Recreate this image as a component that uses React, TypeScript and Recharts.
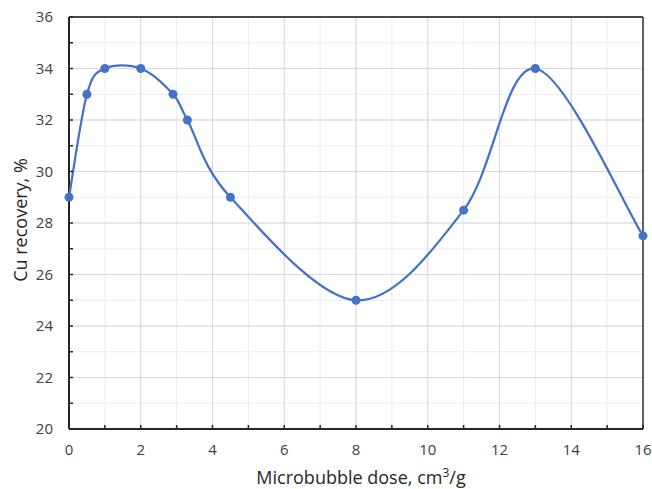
import { LineChart, Line, XAxis, YAxis, CartesianGrid, Label } from "recharts";

// measured points
const doses = [0, 0.5, 1, 2, 2.9, 3.3, 4.5, 8, 11, 13, 16];
const recovery = [29, 33, 34, 34, 33, 32, 29, 25, 28.5, 34, 27.5];

const xTicks = [0, 1, 2, 3, 4, 5, 6, 7, 8, 9, 10, 11, 12, 13, 14, 15, 16];
const yTicks = [20, 21, 22, 23, 24, 25, 26, 27, 28, 29, 30, 31, 32, 33, 34, 35, 36];
const xMajor = [2, 4, 6, 8, 10, 12, 14];
const yMajor = [22, 24, 26, 28, 30, 32, 34];

const data = doses.map((d, i) => ({ dose: d, cu: recovery[i] }));

const FONT = "'Open Sans', 'Noto Sans', sans-serif";
const BLUE = "#4472C4";

// excel-like smoothed line (catmull-rom as bezier)
function excelSmooth(context: any) {
  let pts: number[][] = [];
  return {
    areaStart() {},
    areaEnd() {},
    lineStart() {
      pts = [];
    },
    point(x: number, y: number) {
      pts.push([+x, +y]);
    },
    lineEnd() {
      const n = pts.length;
      if (!n) return;
      context.moveTo(pts[0][0], pts[0][1]);
      for (let i = 0; i < n - 1; i++) {
        const p0 = pts[Math.max(i - 1, 0)];
        const p1 = pts[i];
        const p2 = pts[i + 1];
        const p3 = pts[Math.min(i + 2, n - 1)];
        context.bezierCurveTo(
          p1[0] + (p2[0] - p0[0]) / 6,
          p1[1] + (p2[1] - p0[1]) / 6,
          p2[0] - (p3[0] - p1[0]) / 6,
          p2[1] - (p3[1] - p1[1]) / 6,
          p2[0],
          p2[1]
        );
      }
    },
  };
}

const evenOnly = (v: number) => (v % 2 === 0 ? String(v) : "");

function XTitle(props: any) {
  const vb = props.viewBox;
  return (
    <text x={vb.x + vb.width / 2 + 5} y={vb.y + 55} textAnchor="middle" fontSize={18} fill="#262626" fontFamily={FONT}>
      Microbubble dose, cm
      <tspan fontSize={12} dy={-7}>3</tspan>
      <tspan dy={7}>/g</tspan>
    </text>
  );
}

function YTitle(props: any) {
  const vb = props.viewBox;
  const cx = 27;
  const cy = vb.y + vb.height / 2 - 3;
  return (
    <text x={cx} y={cy} transform={`rotate(-90 ${cx} ${cy})`} textAnchor="middle" fontSize={18} fill="#262626" fontFamily={FONT}>
      Cu recovery, %
    </text>
  );
}

export default function App() {
  return (
    <div style={{ position: "absolute", left: 0, top: 0, width: 652, height: 489, background: "#fff" }}>
      <LineChart width={652} height={489} data={data} margin={{ top: 17, right: 9, left: 0, bottom: 0 }} style={{ fontFamily: FONT }}>
        <CartesianGrid stroke="#ececec" strokeWidth={1} />
        <CartesianGrid stroke="#d9d9d9" strokeWidth={1} horizontalValues={yMajor} verticalValues={xMajor} />
        <CartesianGrid stroke="#111" strokeWidth={1.3} horizontalValues={[36]} verticalValues={[16]} />
        <CartesianGrid stroke="#262626" strokeWidth={2} horizontalValues={[20]} verticalValues={[0]} />
        <XAxis
          type="number"
          dataKey="dose"
          domain={[0, 16]}
          ticks={xTicks}
          interval={0}
          tickFormatter={evenOnly}
          height={60}
          axisLine={false}
          tickSize={-4}
          tickMargin={19}
          tickLine={{ stroke: "#262626", strokeWidth: 1.5 }}
          tick={{ fill: "#404040", fontSize: 15 }}
        >
          <Label content={XTitle} />
        </XAxis>
        <YAxis
          type="number"
          domain={[20, 36]}
          ticks={yTicks}
          interval={0}
          tickFormatter={evenOnly}
          width={69}
          axisLine={false}
          tickSize={-4}
          tickMargin={20}
          tickLine={{ stroke: "#262626", strokeWidth: 1.5 }}
          tick={{ fill: "#404040", fontSize: 15 }}
        >
          <Label content={YTitle} />
        </YAxis>
        <Line
          dataKey="cu"
          type={excelSmooth as any}
          stroke={BLUE}
          strokeWidth={2.25}
          dot={{ r: 4.5, fill: BLUE, stroke: BLUE, strokeWidth: 0 }}
          activeDot={false}
          isAnimationActive={false}
        />
      </LineChart>
    </div>
  );
}
